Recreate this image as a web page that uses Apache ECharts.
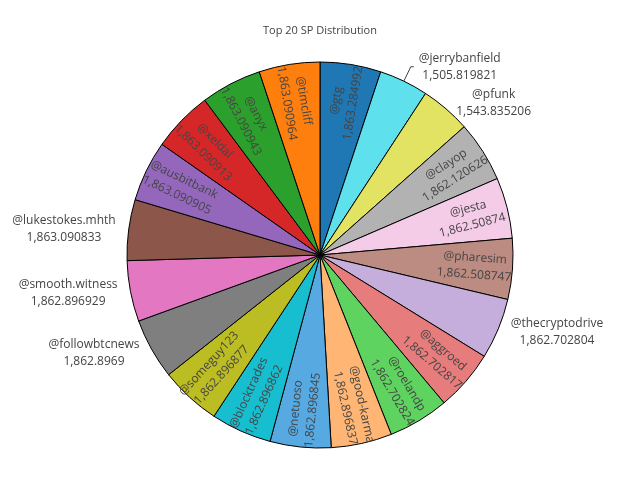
<!DOCTYPE html>
<html>
<head>
<meta charset="utf-8">
<script src="https://cdn.jsdelivr.net/npm/echarts@6/dist/echarts.min.js"></script>
<style>html,body{margin:0;padding:0;background:#fff}#main{width:640px;height:500px}</style>
</head>
<body>
<div id="main"></div>
<script>
var names = ['@gtg','@jerrybanfield','@pfunk','@clayop','@jesta','@pharesim','@thecryptodrive','@aggroed','@roelandp','@good-karma','@netuoso','@blocktrades','@someguy123','@followbtcnews','@smooth.witness','@lukestokes.mhth','@ausbitbank','@xeldal','@anyx','@timcliff'];
var values = [1863.284992,1505.819821,1543.835206,1862.120626,1862.50874,1862.508747,1862.702804,1862.702817,1862.702824,1862.896837,1862.896845,1862.896862,1862.896877,1862.8969,1862.896929,1863.090833,1863.090905,1863.090913,1863.090943,1863.090964];
var colors = ['#1f77b4','#5fe0ed','#e2e362','#b2b2b2','#f4cce8','#bc8b81','#c6aedc','#e77c7c','#5fd35f','#ffb574','#57a9e2','#17becf','#bcbd22','#7f7f7f','#e377c2','#8c564b','#9467bd','#d62728','#2ca02c','#ff7f0e'];
var outsideLabels = ['@jerrybanfield','@pfunk','@thecryptodrive','@lukestokes.mhth','@smooth.witness','@followbtcnews'];

function fmt(v){ return v.toLocaleString('en-US',{maximumFractionDigits:6}); }
var FONT = '"Open Sans", sans-serif';

var sliceData = names.map(function(n,i){ return {name:n, value:values[i], itemStyle:{color:colors[i]}}; });
var labelData = names.map(function(n,i){
  var d = {name:n, value:values[i]};
  if (outsideLabels.indexOf(n) >= 0) {
    d.label = {position:'outside', rotate:0};
    if (n === '@jerrybanfield') {
      d.labelLine = {show:true, length:16, length2:3, lineStyle:{color:'#444', width:1}};
    }
  }
  return d;
});

var chart = echarts.init(document.getElementById('main'), null, {renderer:'canvas'});
chart.setOption({
  animation:false,
  title:{text:'Top 20 SP Distribution', left:'center', top:20,
    textStyle:{fontSize:11, fontWeight:'normal', color:'#444', fontFamily:FONT}},
  series:[
    {
      type:'pie', center:[320,255], radius:193, startAngle:90, clockwise:true,
      avoidLabelOverlap:false, silent:true,
      label:{show:false}, labelLine:{show:false},
      itemStyle:{borderColor:'#000', borderWidth:1},
      data:sliceData
    },
    {
      type:'pie', center:[320,255], radius:[111,193], startAngle:90, clockwise:true,
      avoidLabelOverlap:false, silent:true,
      itemStyle:{color:'rgba(0,0,0,0)', borderWidth:0},
      label:{show:true, position:'inside', rotate:'radial', color:'#444',
        fontFamily:FONT, fontSize:12, lineHeight:17,
        formatter:function(p){ return '{a|'+p.name+'}\n{a|'+fmt(p.value)+'}'; },
        rich:{a:{align:'center', fontFamily:FONT, fontSize:12, lineHeight:17, color:'#444'}}
      },
      labelLine:{show:false, length:8, length2:0},
      data:labelData
    }
  ]
});
</script>
</body>
</html>
